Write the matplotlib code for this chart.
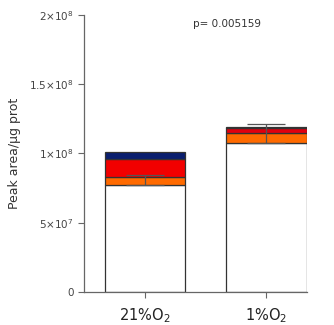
import matplotlib.pyplot as plt
import numpy as np

groups = ["21%O$_2$", "1%O$_2$"]
base = [0.773e8, 1.074e8]
orange = [0.057e8, 0.072e8]
red = [0.130e8, 0.039e8]
navy = [0.050e8, 0.008e8]
err_mean = [0.810e8, 1.1425e8]
err_sd = [0.037e8, 0.0685e8]
pval = "p= 0.005159"

fig = plt.figure(figsize=(3.34, 3.25), dpi=100)
ax = fig.add_axes([0.2515, 0.1015, 0.6675, 0.8525])

x = np.arange(len(groups))
w = 0.66
edge = "#333333"
b = np.array(base)
ax.bar(x, base, w, color="white", edgecolor=edge, linewidth=0.9, zorder=2)
ax.bar(x, orange, w, bottom=b, color="#FF6A00", edgecolor=edge, linewidth=0.9, zorder=2)
b = b + np.array(orange)
ax.bar(x, red, w, bottom=b, color=["#F20000", "#E0000F"], edgecolor=edge, linewidth=0.9, zorder=2)
b = b + np.array(red)
ax.bar(x, navy, w, bottom=b, color=["#0A1E6E", "#1A1030"], edgecolor=edge, linewidth=0.9, zorder=2)

ax.errorbar(x, err_mean, yerr=err_sd, fmt="none", ecolor="#555555",
            elinewidth=0.9, capsize=14, capthick=0.9, zorder=1.5)

ax.set_xlim(-0.5, 1.333)
ax.set_ylim(0, 2e8)
ax.set_yticks([0, 0.5e8, 1e8, 1.5e8, 2e8])
ax.set_yticklabels(["0", r"5$\times$10$^7$", r"1$\times$10$^8$",
                    r"1.5$\times$10$^8$", r"2$\times$10$^8$"])
ax.set_xticks(x)
ax.set_xticklabels(groups, fontsize=10.5)
for s in ["top", "right"]:
    ax.spines[s].set_visible(False)
for s in ["left", "bottom"]:
    ax.spines[s].set_color("#666666")
    ax.spines[s].set_linewidth(0.9)
ax.tick_params(axis="y", labelsize=7.5, colors="#444444", length=4, color="#666666")
ax.tick_params(axis="x", labelcolor="#222222", length=4, color="#666666", pad=6)
ax.set_ylabel("Peak area/µg prot", fontsize=9, color="#333333", labelpad=6)
ax.text(0.64, 0.985, pval, transform=ax.transAxes, ha="center", va="top",
        fontsize=7.5, color="#333333")

# draw error bars over the bars
for coll in ax.collections + ax.lines:
    coll.set_zorder(3)

fig.savefig("out.png", dpi=100)
